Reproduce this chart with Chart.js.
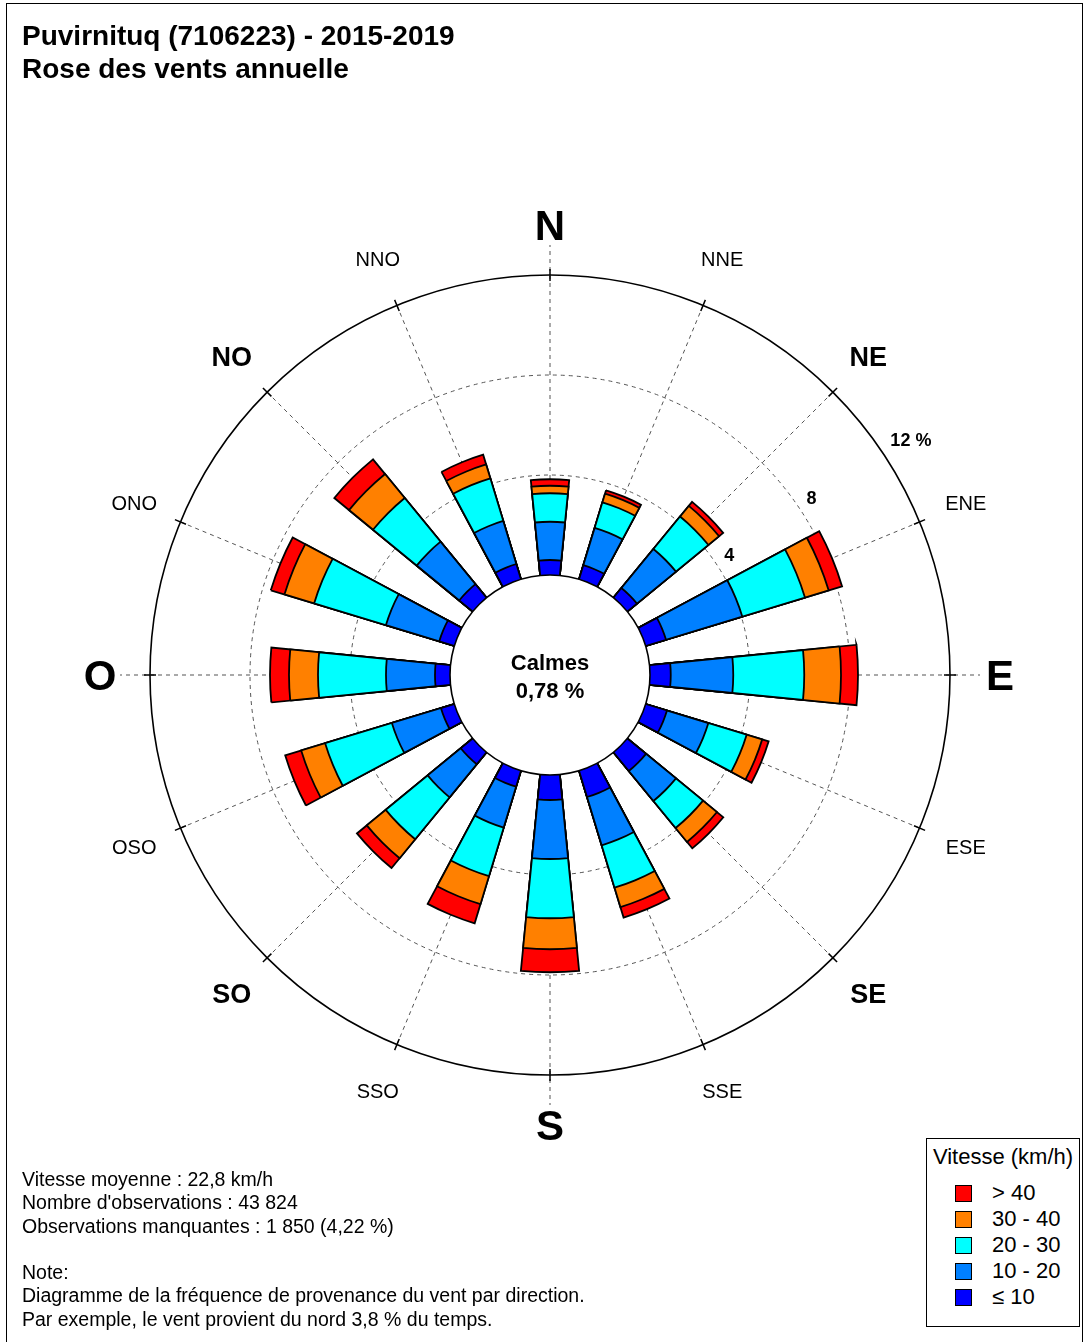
<!DOCTYPE html>
<html lang="fr">
<head>
<meta charset="utf-8">
<title>Puvirnituq - Rose des vents annuelle</title>
<script src="https://cdn.jsdelivr.net/npm/chart.js@4.4.1/dist/chart.umd.min.js"></script>
<style>
  html, body { margin: 0; padding: 0; background: #fff; }
  body { width: 1088px; height: 1342px; position: relative; overflow: hidden;
         font-family: "Liberation Sans", Arial, Helvetica, sans-serif; color: #000; }
  #frame { position: absolute; left: 6px; top: 3px; width: 1077px; height: 1345px;
           border-left: 1px solid #000; border-top: 1px solid #000; border-right: 1px solid #000; box-sizing: border-box; }
  canvas { position: absolute; left: 0; top: 0; }
  .title { position: absolute; left: 22px; top: 19px; font-weight: bold; font-size: 28px; line-height: 33px; white-space: nowrap; }
  .stats { position: absolute; left: 22px; top: 1168px; font-size: 19.5px; line-height: 23.3px; white-space: nowrap; }
  .legend { position: absolute; left: 926px; top: 1138px; width: 154px; height: 189px; box-sizing: border-box;
            border: 1px solid #000; background: #fff; }
  .legend .lt { position: absolute; left: 0; width: 100%; top: 5px; text-align: center; font-size: 22px; line-height: 26px; white-space: nowrap; }
  .legend .item { position: absolute; left: 28px; height: 26px; font-size: 22px; line-height: 26px; white-space: nowrap; }
  .legend .sw { position: absolute; left: 0; top: 5px; width: 17px; height: 17px; box-sizing: border-box; border: 1px solid #000; }
  .legend .tx { position: absolute; left: 37px; top: 0; }
</style>
</head>
<body>
<div id="frame"></div>
<canvas id="rose" width="1088" height="1342"></canvas>
<div class="title">Puvirnituq (7106223) - 2015-2019<br>Rose des vents annuelle</div>
<div class="stats" id="stats"></div>
<div class="legend" id="legend"></div>
<script>
// Wind directions, clockwise from north (French abbreviations)
const directions = ['N', 'NNE', 'NE', 'ENE', 'E', 'ESE', 'SE', 'SSE',
                    'S', 'SSO', 'SO', 'OSO', 'O', 'ONO', 'NO', 'NNO'];

// Frequency (% of time) of each speed class, per direction
const speedLe10  = [0.60, 0.59, 0.50, 0.85, 0.83, 0.89, 0.97, 1.10, 1.00, 0.67, 0.62, 0.56, 0.60, 0.63, 0.70, 0.64];
const speed10_20 = [1.53, 1.56, 2.02, 3.19, 2.50, 1.73, 1.55, 2.02, 2.36, 1.71, 1.71, 2.05, 1.96, 2.23, 2.20, 1.80];
const speed20_30 = [1.14, 1.07, 1.68, 2.62, 2.84, 1.60, 1.40, 1.77, 2.37, 2.03, 2.17, 2.79, 2.72, 3.00, 2.26, 1.78];
const speed30_40 = [0.30, 0.36, 0.55, 0.99, 1.47, 0.65, 0.72, 0.81, 1.24, 1.17, 0.98, 1.00, 1.16, 1.24, 1.24, 0.58];
const speedGt40  = [0.26, 0.14, 0.21, 0.56, 0.68, 0.27, 0.33, 0.44, 0.92, 0.80, 0.51, 0.67, 0.76, 0.57, 0.76, 0.41];

// Speed classes (km/h), from slowest to fastest
const speedClasses = ['\u2264 10', '10 - 20', '20 - 30', '30 - 40', '> 40'];
const classColors  = ['#0000FF', '#0080FF', '#00FFFF', '#FF8000', '#FF0000'];

// Radial axis: percentage rings
const ringTicks = [4, 8, 12];
const ringLabels = ['4', '8', '12 %'];

// Calm share and summary figures
const calmPct = 0.78;
const statsLines = [
  'Vitesse moyenne : 22,8 km/h',
  "Nombre d'observations : 43 824",
  'Observations manquantes : 1 850 (4,22 %)',
  '',
  'Note:',
  'Diagramme de la fréquence de provenance du vent par direction.',
  'Par exemple, le vent provient du nord 3,8 % du temps.'
];

// ---- geometry of the rose ----
const SECTOR = 360 / directions.length;   // 22.5 degrees per direction
const BAR_ANGLE = SECTOR / 2;             // width of each petal
const GAP_ANGLE = SECTOR - BAR_ANGLE;     // empty wedge between petals
const R_MIN = -4;                         // the calm disc occupies the first 4 % of radius
const R_MAX = 12;

// Stack the classes: each dataset holds the cumulative frequency up to its class.
const classSeries = [speedLe10, speed10_20, speed20_30, speed30_40, speedGt40];
const cumulative = classSeries.map((_, k) =>
  directions.map((d, i) => classSeries.slice(0, k + 1).reduce((s, arr) => s + arr[i], 0)));

// Each direction is followed by an empty wedge, so the labels/data alternate.
const wedgeLabels = directions.flatMap(d => [d, '']);
const datasets = cumulative.map((vals, k) => ({
  label: speedClasses[k],
  data: vals.flatMap(v => [v, R_MIN]),
  backgroundColor: ctx => ctx.dataIndex % 2 ? 'rgba(0,0,0,0)' : classColors[k],
  borderColor: '#000',
  borderWidth: ctx => ctx.dataIndex % 2 ? 0 : 1.8,
  borderJoinStyle: 'miter',
  angle: ctx => ctx.dataIndex % 2 ? GAP_ANGLE : BAR_ANGLE
}));

const rad = deg => deg * Math.PI / 180;
const FONT = '"Liberation Sans", Arial, Helvetica, sans-serif';

function directionAngle(scale, i) {
  // canvas angle (0 = east) of the centre line of petal i
  return scale.getIndexAngle(0) + rad(i * SECTOR + BAR_ANGLE / 2) - Math.PI / 2;
}

function capText(ctx, text, x, y, size, bold, align) {
  // draw text whose capital letters are vertically centred on y
  ctx.font = (bold ? 'bold ' : '') + size + 'px ' + FONT;
  ctx.textAlign = align || 'center';
  ctx.textBaseline = 'alphabetic';
  ctx.fillText(text, x, y + 0.358 * size);
}

const roseFrame = {
  id: 'roseFrame',
  beforeDatasetsDraw(chart) {
    const s = chart.scales.r, ctx = chart.ctx;
    const cx = s.xCenter, cy = s.yCenter;
    const r0 = s.getDistanceFromCenterForValue(0);
    const rOut = s.getDistanceFromCenterForValue(R_MAX);
    ctx.save();
    // dashed direction lines
    ctx.strokeStyle = '#555';
    ctx.lineWidth = 1;
    ctx.setLineDash([4, 4]);
    directions.forEach((d, i) => {
      const a = directionAngle(s, i);
      const end = i % 4 === 0 ? rOut + 30 : rOut;
      ctx.beginPath();
      ctx.moveTo(cx + r0 * Math.cos(a), cy + r0 * Math.sin(a));
      ctx.lineTo(cx + end * Math.cos(a), cy + end * Math.sin(a));
      ctx.stroke();
    });
    // small solid ticks across the outer circle
    ctx.setLineDash([]);
    ctx.strokeStyle = '#000';
    ctx.lineWidth = 1.5;
    directions.forEach((d, i) => {
      const a = directionAngle(s, i);
      ctx.beginPath();
      ctx.moveTo(cx + (rOut - 6) * Math.cos(a), cy + (rOut - 6) * Math.sin(a));
      ctx.lineTo(cx + (rOut + 6) * Math.cos(a), cy + (rOut + 6) * Math.sin(a));
      ctx.stroke();
    });
    ctx.restore();
  },
  afterDatasetsDraw(chart) {
    const s = chart.scales.r, ctx = chart.ctx;
    const cx = s.xCenter, cy = s.yCenter;
    const r0 = s.getDistanceFromCenterForValue(0);
    const rOut = s.getDistanceFromCenterForValue(R_MAX);
    ctx.save();
    // calm disc
    ctx.beginPath();
    ctx.arc(cx, cy, r0, 0, Math.PI * 2);
    ctx.fillStyle = '#fff';
    ctx.fill();
    ctx.lineWidth = 1.6;
    ctx.strokeStyle = '#000';
    ctx.stroke();
    ctx.fillStyle = '#000';
    capText(ctx, 'Calmes', cx, cy - 13, 22, true);
    capText(ctx, calmPct.toFixed(2).replace('.', ',') + ' %', cx, cy + 15, 22, true);

    // ring values, placed between NE and ENE, just outside each ring
    const ringA = rad(55.3) - Math.PI / 2;
    ringTicks.forEach((v, k) => {
      const rr = s.getDistanceFromCenterForValue(v) + (k === ringTicks.length - 1 ? 14 : 12);
      capText(ctx, ringLabels[k], cx + rr * Math.cos(ringA), cy + rr * Math.sin(ringA), 18, true, 'left');
    });

    // compass labels
    const rLab = rOut + 50;
    directions.forEach((d, i) => {
      const a = directionAngle(s, i);
      const x = cx + rLab * Math.cos(a), y = cy + rLab * Math.sin(a);
      if (i % 4 === 0) capText(ctx, d, x, y, 42, true);
      else if (i % 2 === 0) capText(ctx, d, x, y, 27, true);
      else capText(ctx, d, x, y, 20, false);
    });
    ctx.restore();
  }
};

const isRing = v => v === 4 || v === 8;
new Chart(document.getElementById('rose'), {
  type: 'polarArea',
  data: { labels: wedgeLabels, datasets },
  options: {
    responsive: false,
    animation: false,
    devicePixelRatio: 1,
    layout: { padding: { left: 150, top: 275, right: 138, bottom: 267 } },
    plugins: { legend: { display: false }, tooltip: { enabled: false } },
    scales: {
      r: {
        min: R_MIN,
        max: R_MAX,
        startAngle: -BAR_ANGLE / 2,
        ticks: { display: false, stepSize: 4 },
        pointLabels: { display: false },
        angleLines: { display: false },
        grid: {
          circular: true,
          color: ctx => (ctx.tick && isRing(ctx.tick.value)) ? '#555' : (ctx.tick && ctx.tick.value === R_MAX ? '#000' : 'rgba(0,0,0,0)'),
          lineWidth: ctx => (ctx.tick && isRing(ctx.tick.value)) ? 1 : 1.6
        },
        border: { dash: ctx => (ctx.tick && isRing(ctx.tick.value)) ? [4, 4] : [] }
      }
    }
  },
  plugins: [roseFrame]
});

// summary text and legend
document.getElementById('stats').innerHTML = statsLines.map(l => l || '&nbsp;').join('<br>');
const legend = document.getElementById('legend');
legend.innerHTML = '<div class="lt">Vitesse (km/h)</div>' +
  speedClasses.map((c, k) => ({ c, k })).reverse().map((o, j) =>
    `<div class="item" style="top:${41 + j * 26}px"><span class="sw" style="background:${classColors[o.k]}"></span><span class="tx">${o.c}</span></div>`
  ).join('');
</script>
</body>
</html>
